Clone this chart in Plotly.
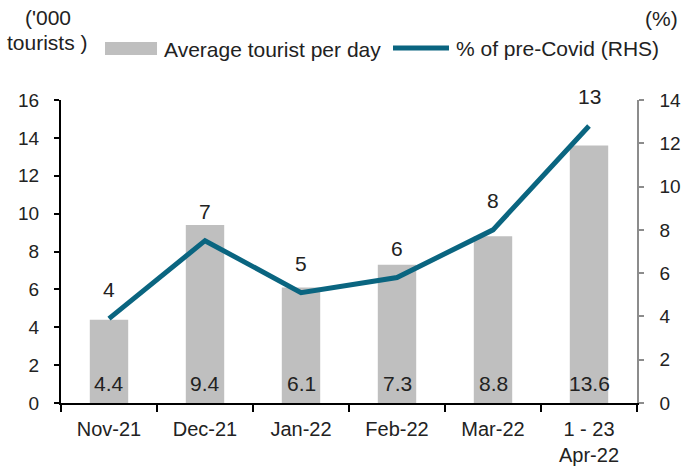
import plotly.graph_objects as go

categories = ["Nov-21", "Dec-21", "Jan-22", "Feb-22", "Mar-22", "1 - 23<br>Apr-22"]
avg_tourists = [4.4, 9.4, 6.1, 7.3, 8.8, 13.6]
pct_pre_covid = [3.9, 7.5, 5.1, 5.8, 8.0, 12.8]
pct_labels = ["4", "7", "5", "6", "8", "13"]
left_ticks = [0, 2, 4, 6, 8, 10, 12, 14, 16]
right_ticks = [0, 2, 4, 6, 8, 10, 12, 14]

FONT = "Liberation Sans, Arial, sans-serif"
BAR_COLOR = "#BFBFBF"
LINE_COLOR = "#0A6580"
TXT = "#222"

fig = go.Figure()
fig.add_trace(go.Bar(x=categories, y=avg_tourists, name="Average tourist per day",
                     marker=dict(color=BAR_COLOR, line=dict(width=0)), width=0.4,
                     showlegend=False, yaxis="y"))
fig.add_trace(go.Scatter(x=categories, y=pct_pre_covid, name="% of pre-Covid (RHS)",
                         mode="lines", line=dict(color=LINE_COLOR, width=5),
                         showlegend=False, yaxis="y2"))

annotations = []
for c, v in zip(categories, avg_tourists):
    annotations.append(dict(x=c, y=0, xref="x", yref="y", text=f"{v:.1f}", showarrow=False,
                            yanchor="middle", yshift=20, font=dict(size=21, color=TXT)))
for c, v, t in zip(categories, pct_pre_covid, pct_labels):
    annotations.append(dict(x=c, y=v, xref="x", yref="y2", text=t, showarrow=False,
                            yanchor="middle", yshift=29, font=dict(size=21, color=TXT)))

annotations += [
    dict(x=-0.0226, y=1.2739, xref="paper", yref="paper", text="('000",
         showarrow=False, xanchor="center", yanchor="middle",
         font=dict(size=21, color=TXT)),
    dict(x=-0.0226, y=1.1914, xref="paper", yref="paper", text="tourists )",
         showarrow=False, xanchor="center", yanchor="middle",
         font=dict(size=21, color=TXT)),
    dict(x=1.0434, y=1.2706, xref="paper", yref="paper", text="(%)",
         showarrow=False, xanchor="center", yanchor="middle",
         font=dict(size=21, color=TXT)),
    dict(x=0.1753, y=1.1683, xref="paper", yref="paper", text="Average tourist per day",
         showarrow=False, xanchor="left", yanchor="middle",
         font=dict(size=21, color=TXT)),
    dict(x=0.6823, y=1.1716, xref="paper", yref="paper", text="% of pre-Covid (RHS)",
         showarrow=False, xanchor="left", yanchor="middle",
         font=dict(size=21, color=TXT)),
]

shapes = [
    dict(type="rect", xref="paper", yref="paper", x0=0.0764, x1=0.1667, y0=1.1485, y1=1.1914,
         fillcolor=BAR_COLOR, line=dict(width=0)),
    dict(type="line", xref="paper", yref="paper", x0=0.5764, x1=0.6736, y0=1.1716, y1=1.1716,
         line=dict(color=LINE_COLOR, width=5)),
]

fig.update_layout(
    width=681, height=468,
    margin=dict(l=61, r=44, t=100, b=65, autoexpand=False),
    paper_bgcolor="white", plot_bgcolor="white",
    font=dict(family=FONT, size=19, color=TXT),
    annotations=annotations, shapes=shapes,
    xaxis=dict(type="category", categoryorder="array", categoryarray=categories,
               showline=True, linecolor="black", linewidth=2, automargin=False,
               ticks="outside", tickson="boundaries", ticklen=7, tickwidth=2, tickcolor="black",
               ticklabelstandoff=7,
               tickfont=dict(size=20), showgrid=False, zeroline=False),
    yaxis=dict(range=[0, 16], tickvals=left_ticks, showline=True, linecolor="black", linewidth=2,
               automargin=False,
               ticks="outside", ticklen=5, tickwidth=2, tickcolor="black",
               ticklabelstandoff=11, showgrid=False, zeroline=False, tickfont=dict(size=19)),
    yaxis2=dict(range=[0, 14], tickvals=right_ticks, overlaying="y", side="right",
                showline=True, linecolor="#8C8C8C", linewidth=1.5, automargin=False,
                ticks="outside", ticklen=5, tickwidth=1.5, tickcolor="#8C8C8C",
                ticklabelstandoff=12, showgrid=False, zeroline=False, tickfont=dict(size=19)),
)

fig.write_html(
    "out.html",
    config={"displayModeBar": False, "responsive": False},
    post_script="document.body.style.margin='0';document.body.style.overflow='hidden';",
)
